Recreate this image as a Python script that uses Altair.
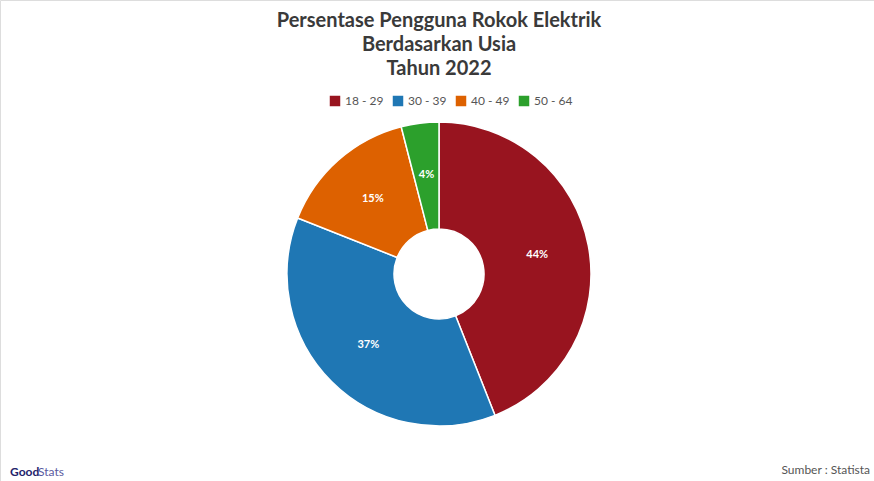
import altair as alt
import pandas as pd

categories = ["18 - 29", "30 - 39", "40 - 49", "50 - 64"]
values = [44, 37, 15, 4]
colors = ["#98141f", "#1f77b4", "#dd6100", "#2ca02c"]

title_lines = ["Persentase Pengguna Rokok Elektrik", "Berdasarkan Usia", "Tahun 2022"]
source_text = "Sumber : Statista"

df = pd.DataFrame({
    "kategori": categories,
    "nilai": values,
    "urut": list(range(len(categories))),
    "label": [f"{v}%" for v in values],
})

CX, CY = 439, 274

base = alt.Chart(df).encode(
    theta=alt.Theta("nilai:Q", stack=True),
    order=alt.Order("urut:Q"),
    x=alt.value(CX),
    y=alt.value(CY),
)

arcs = base.mark_arc(outerRadius=152, innerRadius=45, stroke="white", strokeWidth=1.5).encode(
    color=alt.Color(
        "kategori:N",
        scale=alt.Scale(domain=categories, range=colors),
        sort=categories,
        legend=alt.Legend(
            title=None,
            orient="none",
            direction="horizontal",
            legendX=329,
            legendY=95,
            symbolType="square",
            symbolSize=110,
            symbolStrokeWidth=0,
            labelFont="Lato",
            labelFontSize=12,
            labelColor="#555555",
            columnPadding=8,
            labelOffset=4,
        ),
    )
)

labels = base.mark_text(radius=100, font="Lato", fontWeight="bold", fontSize=11, color="white").encode(
    text="label:N"
)

title_layers = []
for i, line in enumerate(title_lines):
    title_layers.append(
        alt.Chart(pd.DataFrame({"t": [line]})).mark_text(
            font="Lato", fontWeight="bold", fontSize=20, color="#3a3a3a", baseline="middle", align="center"
        ).encode(x=alt.value(439), y=alt.value(21 + 24 * i), text="t:N")
    )

src = alt.Chart(pd.DataFrame({"t": [source_text]})).mark_text(
    font="Lato", fontSize=12, color="#555555", align="right", baseline="middle"
).encode(x=alt.value(870), y=alt.value(470), text="t:N")

good = alt.Chart(pd.DataFrame({"t": ["Good"]})).mark_text(
    font="Lato", fontWeight="bold", fontSize=12, color="#23236b", align="left", baseline="middle"
).encode(x=alt.value(10), y=alt.value(472), text="t:N")
stats = alt.Chart(pd.DataFrame({"t": ["Stats"]})).mark_text(
    font="Lato", fontSize=12, color="#5a5aa0", align="left", baseline="middle"
).encode(x=alt.value(38), y=alt.value(472), text="t:N")

chart = alt.layer(arcs, labels, *title_layers, src, good, stats).properties(
    width=874, height=481, padding=0, autosize=alt.AutoSizeParams(type="none")
).configure_view(stroke=None).configure(background="white")

chart.save("out.html", embed_options={"renderer": "svg", "actions": False})
